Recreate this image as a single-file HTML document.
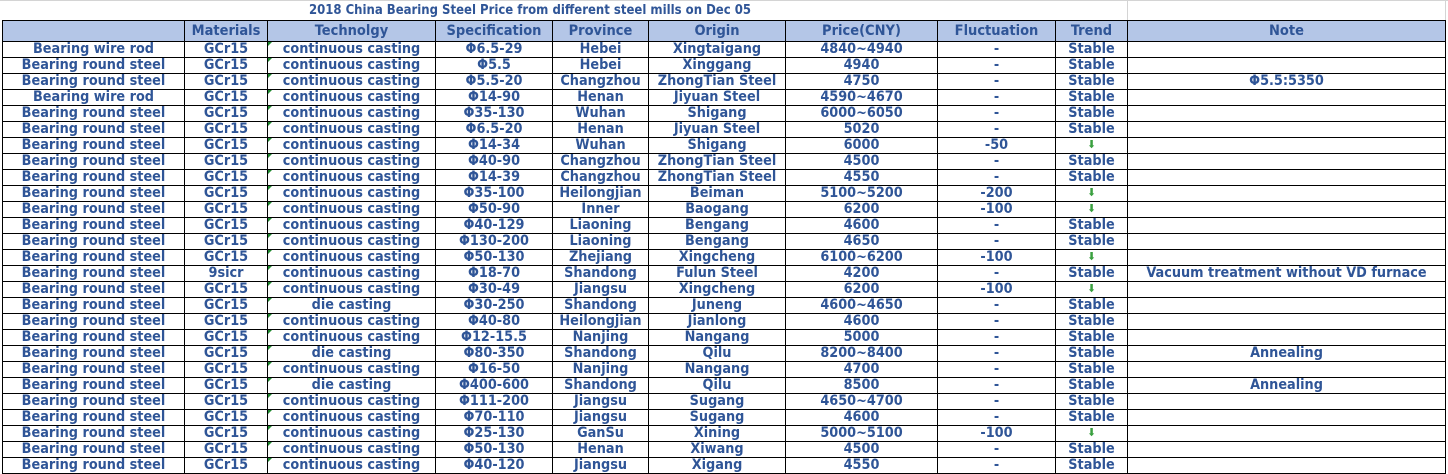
<!DOCTYPE html>
<html><head><meta charset="utf-8"><style>
body{margin:0;background:#fff;width:1448px;height:474px;overflow:hidden;position:relative;font-family:"DejaVu Sans Condensed","Liberation Sans",sans-serif;}
.top{position:absolute;left:0;top:0;width:1448px;height:1px;background:#d4d4d4}
.vg{position:absolute;left:1127px;top:0;width:1px;height:20px;background:#d4d4d4}
.vg2{position:absolute;left:1445px;top:0;width:1px;height:20px;background:#d4d4d4}
.title{position:absolute;left:0;top:2px;width:1060px;text-align:center;font-weight:bold;font-size:13px;color:#2f5597;line-height:18px}
table{position:absolute;left:2px;top:20px;border-collapse:collapse;table-layout:fixed;width:1444px}
td{border:1px solid #000;height:15px;padding:0;line-height:14px;font-size:14.3px;font-weight:bold;color:#2f5597;text-align:center;white-space:nowrap;overflow:hidden;position:relative;vertical-align:top}
tr.h td{background:#b4c6e7;height:19px;line-height:20px;font-size:14.5px}
.t::before{content:"";position:absolute;left:0;top:0;border-top:4px solid #1e8a2e;border-right:4px solid transparent}
.a{color:#3aa040;font-size:11px}
</style></head><body>
<div class="top"></div><div class="vg"></div><div class="vg2"></div>
<div class="title">2018 China Bearing Steel Price from different steel mills on Dec 05</div>
<table>
<colgroup><col style="width:182px"><col style="width:83px"><col style="width:168px"><col style="width:117px"><col style="width:96px"><col style="width:137px"><col style="width:152px"><col style="width:118px"><col style="width:72px"><col style="width:318px"></colgroup>
<tr class="h"><td></td><td>Materials</td><td>Technolgy</td><td>Specification</td><td>Province</td><td>Origin</td><td>Price(CNY)</td><td>Fluctuation</td><td>Trend</td><td>Note</td></tr>
<tr><td>Bearing wire rod</td><td>GCr15</td><td class="t">continuous casting</td><td>Φ6.5-29</td><td>Hebei</td><td>Xingtaigang</td><td>4840~4940</td><td>-</td><td>Stable</td><td></td></tr>
<tr><td>Bearing round steel</td><td>GCr15</td><td class="t">continuous casting</td><td>Φ5.5</td><td>Hebei</td><td>Xinggang</td><td>4940</td><td>-</td><td>Stable</td><td></td></tr>
<tr><td>Bearing round steel</td><td>GCr15</td><td class="t">continuous casting</td><td>Φ5.5-20</td><td>Changzhou</td><td>ZhongTian Steel</td><td>4750</td><td>-</td><td>Stable</td><td>Φ5.5:5350</td></tr>
<tr><td>Bearing wire rod</td><td>GCr15</td><td class="t">continuous casting</td><td>Φ14-90</td><td>Henan</td><td>Jiyuan Steel</td><td>4590~4670</td><td>-</td><td>Stable</td><td></td></tr>
<tr><td>Bearing round steel</td><td>GCr15</td><td class="t">continuous casting</td><td>Φ35-130</td><td>Wuhan</td><td>Shigang</td><td>6000~6050</td><td>-</td><td>Stable</td><td></td></tr>
<tr><td>Bearing round steel</td><td>GCr15</td><td class="t">continuous casting</td><td>Φ6.5-20</td><td>Henan</td><td>Jiyuan Steel</td><td>5020</td><td>-</td><td>Stable</td><td></td></tr>
<tr><td>Bearing round steel</td><td>GCr15</td><td class="t">continuous casting</td><td>Φ14-34</td><td>Wuhan</td><td>Shigang</td><td>6000</td><td>-50</td><td class="a">⬇</td><td></td></tr>
<tr><td>Bearing round steel</td><td>GCr15</td><td class="t">continuous casting</td><td>Φ40-90</td><td>Changzhou</td><td>ZhongTian Steel</td><td>4500</td><td>-</td><td>Stable</td><td></td></tr>
<tr><td>Bearing round steel</td><td>GCr15</td><td class="t">continuous casting</td><td>Φ14-39</td><td>Changzhou</td><td>ZhongTian Steel</td><td>4550</td><td>-</td><td>Stable</td><td></td></tr>
<tr><td>Bearing round steel</td><td>GCr15</td><td class="t">continuous casting</td><td>Φ35-100</td><td>Heilongjian</td><td>Beiman</td><td>5100~5200</td><td>-200</td><td class="a">⬇</td><td></td></tr>
<tr><td>Bearing round steel</td><td>GCr15</td><td class="t">continuous casting</td><td>Φ50-90</td><td>Inner</td><td>Baogang</td><td>6200</td><td>-100</td><td class="a">⬇</td><td></td></tr>
<tr><td>Bearing round steel</td><td>GCr15</td><td class="t">continuous casting</td><td>Φ40-129</td><td>Liaoning</td><td>Bengang</td><td>4600</td><td>-</td><td>Stable</td><td></td></tr>
<tr><td>Bearing round steel</td><td>GCr15</td><td class="t">continuous casting</td><td>Φ130-200</td><td>Liaoning</td><td>Bengang</td><td>4650</td><td>-</td><td>Stable</td><td></td></tr>
<tr><td>Bearing round steel</td><td>GCr15</td><td class="t">continuous casting</td><td>Φ50-130</td><td>Zhejiang</td><td>Xingcheng</td><td>6100~6200</td><td>-100</td><td class="a">⬇</td><td></td></tr>
<tr><td>Bearing round steel</td><td>9sicr</td><td class="t">continuous casting</td><td>Φ18-70</td><td>Shandong</td><td>Fulun Steel</td><td>4200</td><td>-</td><td>Stable</td><td>Vacuum treatment without VD furnace</td></tr>
<tr><td>Bearing round steel</td><td>GCr15</td><td class="t">continuous casting</td><td>Φ30-49</td><td>Jiangsu</td><td>Xingcheng</td><td>6200</td><td>-100</td><td class="a">⬇</td><td></td></tr>
<tr><td>Bearing round steel</td><td>GCr15</td><td class="t">die casting</td><td>Φ30-250</td><td>Shandong</td><td>Juneng</td><td>4600~4650</td><td>-</td><td>Stable</td><td></td></tr>
<tr><td>Bearing round steel</td><td>GCr15</td><td class="t">continuous casting</td><td>Φ40-80</td><td>Heilongjian</td><td>Jianlong</td><td>4600</td><td>-</td><td>Stable</td><td></td></tr>
<tr><td>Bearing round steel</td><td>GCr15</td><td class="t">continuous casting</td><td>Φ12-15.5</td><td>Nanjing</td><td>Nangang</td><td>5000</td><td>-</td><td>Stable</td><td></td></tr>
<tr><td>Bearing round steel</td><td>GCr15</td><td class="t">die casting</td><td>Φ80-350</td><td>Shandong</td><td>Qilu</td><td>8200~8400</td><td>-</td><td>Stable</td><td>Annealing</td></tr>
<tr><td>Bearing round steel</td><td>GCr15</td><td class="t">continuous casting</td><td>Φ16-50</td><td>Nanjing</td><td>Nangang</td><td>4700</td><td>-</td><td>Stable</td><td></td></tr>
<tr><td>Bearing round steel</td><td>GCr15</td><td class="t">die casting</td><td>Φ400-600</td><td>Shandong</td><td>Qilu</td><td>8500</td><td>-</td><td>Stable</td><td>Annealing</td></tr>
<tr><td>Bearing round steel</td><td>GCr15</td><td class="t">continuous casting</td><td>Φ111-200</td><td>Jiangsu</td><td>Sugang</td><td>4650~4700</td><td>-</td><td>Stable</td><td></td></tr>
<tr><td>Bearing round steel</td><td>GCr15</td><td class="t">continuous casting</td><td>Φ70-110</td><td>Jiangsu</td><td>Sugang</td><td>4600</td><td>-</td><td>Stable</td><td></td></tr>
<tr><td>Bearing round steel</td><td>GCr15</td><td class="t">continuous casting</td><td>Φ25-130</td><td>GanSu</td><td>Xining</td><td>5000~5100</td><td>-100</td><td class="a">⬇</td><td></td></tr>
<tr><td>Bearing round steel</td><td>GCr15</td><td class="t">continuous casting</td><td>Φ50-130</td><td>Henan</td><td>Xiwang</td><td>4500</td><td>-</td><td>Stable</td><td></td></tr>
<tr><td>Bearing round steel</td><td>GCr15</td><td class="t">continuous casting</td><td>Φ40-120</td><td>Jiangsu</td><td>Xigang</td><td>4550</td><td>-</td><td>Stable</td><td></td></tr>
</table>
</body></html>
